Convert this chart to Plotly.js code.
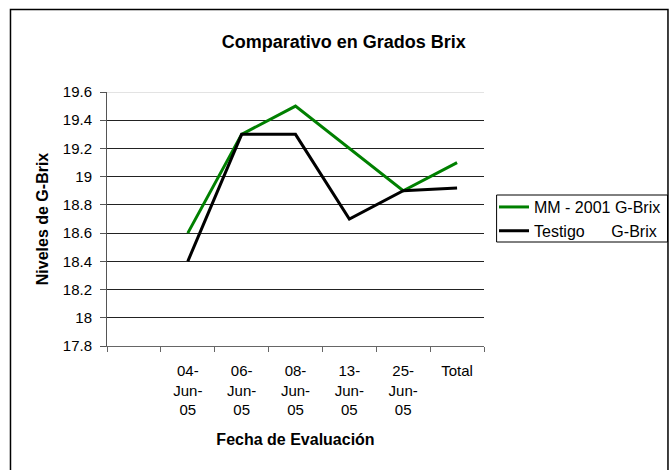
<!DOCTYPE html>
<html><head><meta charset="utf-8">
<script src="https://cdn.plot.ly/plotly-3.0.1.min.js"></script>
<style>html,body{margin:0;padding:0;background:#fff}#chart{width:670px;height:470px}</style>
</head><body><div id="chart"></div>
<script>
const categories = [" ", "04-<br>Jun-<br>05", "06-<br>Jun-<br>05", "08-<br>Jun-<br>05", "13-<br>Jun-<br>05", "25-<br>Jun-<br>05", "Total"];
const dataCategories = categories.slice(1);
const mmValues = [18.6, 19.3, 19.5, 19.2, 18.9, 19.1];
const testigoValues = [18.4, 19.3, 19.3, 18.7, 18.9, 18.92];
const seriesNames = ["MM - 2001 G-Brix", "Testigo      G-Brix"];
const yTickVals = [17.8, 18.0, 18.2, 18.4, 18.6, 18.8, 19.0, 19.2, 19.4, 19.6];
const yTickText = ["17.8", "18", "18.2", "18.4", "18.6", "18.8", "19", "19.2", "19.4", "19.6"];

const FONT = "Liberation Sans, Arial, sans-serif";

const traces = [
  {x: dataCategories, y: mmValues, name: seriesNames[0], type: "scatter", mode: "lines",
   line: {color: "#008000", width: 3}},
  {x: dataCategories, y: testigoValues, name: seriesNames[1], type: "scatter", mode: "lines",
   line: {color: "#000000", width: 3}}
];

const layout = {
  width: 670, height: 470,
  margin: {l: 107, r: 186, t: 92, b: 124, pad: 0, autoexpand: false},
  paper_bgcolor: "#fff", plot_bgcolor: "#fff",
  font: {family: FONT, size: 15, color: "#000"},
  showlegend: true,
  title: {text: "<b>Comparativo en Grados Brix</b>", font: {family: FONT, size: 18, color: "#000"},
          x: 0.513, xref: "container", xanchor: "center", y: 0.911, yref: "container", yanchor: "middle"},
  xaxis: {
    type: "category", categoryorder: "array", categoryarray: categories,
    range: [-0.5, 6.5], tickson: "boundaries", ticks: "outside", ticklen: 5, tickcolor: "#666", tickwidth: 1,
    ticklabelstandoff: 11,
    showline: true, linecolor: "#666", linewidth: 1, showgrid: false, zeroline: false,
    tickfont: {family: FONT, size: 15, color: "#000"},
    title: {text: "<b>Fecha de Evaluación</b>", font: {family: FONT, size: 16, color: "#000"}, standoff: 16},
    fixedrange: true
  },
  yaxis: {
    range: [17.8, 19.6], tickmode: "array", tickvals: yTickVals, ticktext: yTickText,
    ticks: "outside", ticklen: 6, tickcolor: "#555", tickwidth: 1, ticklabelstandoff: 5,
    showline: true, linecolor: "#555", linewidth: 1,
    showgrid: true, gridcolor: "#222", gridwidth: 1, zeroline: false,
    tickfont: {family: FONT, size: 15, color: "#000"},
    title: {text: "<b>Niveles de G-Brix</b>", font: {family: FONT, size: 16, color: "#000"}, standoff: 10},
    fixedrange: true
  },
  legend: {
    x: 1.0265, y: 0.614, xanchor: "left", yanchor: "top",
    borderwidth: 0, bgcolor: "rgba(0,0,0,0)",
    font: {family: FONT, size: 16, color: "#000"},
    itemwidth: 30, tracegroupgap: 0
  },
  shapes: [
    {type: "line", xref: "paper", yref: "y", x0: 0, x1: 1, y0: 19.6, y1: 19.6,
     line: {color: "#c8c8c8", width: 1}, layer: "above"},
    {type: "rect", xref: "paper", yref: "paper", x0: (496.6 - 107) / 377, x1: (667.5 - 107) / 377,
     y0: (346 - 242) / 254, y1: (346 - 195) / 254,
     line: {color: "#000", width: 1}, fillcolor: "#fff", layer: "below"},
    {type: "rect", xref: "paper", yref: "paper", x0: -0.256, x1: 1.488, y0: -0.6, y1: 1.325,
     line: {color: "#000", width: 1.5}, fillcolor: "rgba(0,0,0,0)", layer: "above"}
  ]
};

Plotly.newPlot("chart", traces, layout, {staticPlot: true, displayModeBar: false});
</script>
</body></html>
